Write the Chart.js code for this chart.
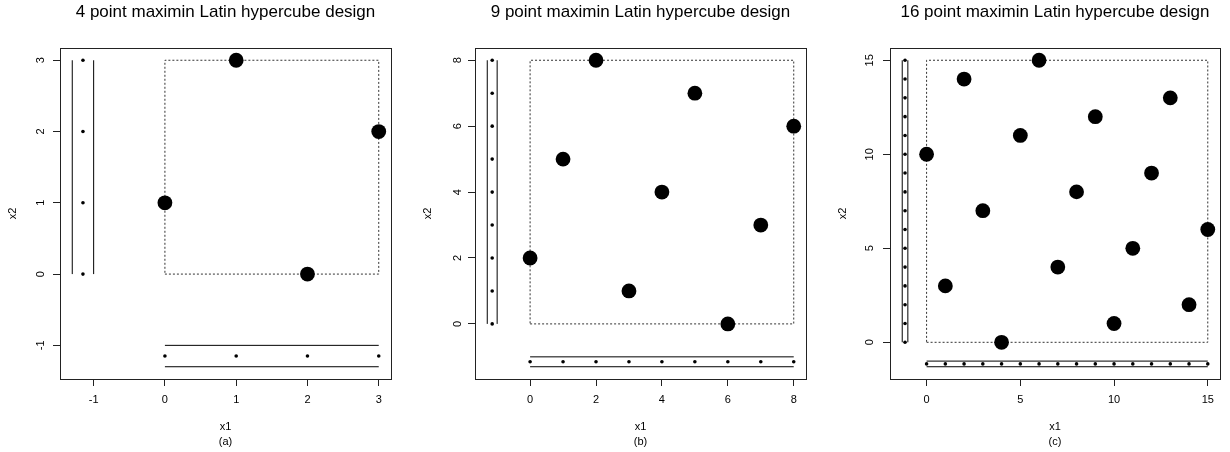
<!DOCTYPE html>
<html>
<head>
<meta charset="utf-8">
<script src="https://cdn.jsdelivr.net/npm/chart.js@4.4.0/dist/chart.umd.min.js"></script>
<style>
  html, body { margin: 0; padding: 0; background: #fff; }
  #wrap { position: relative; width: 1230px; height: 452px; }
  canvas { position: absolute; top: 0; }
</style>
</head>
<body>
<div id="wrap">
  <canvas id="panelA" width="410" height="452" style="left:0px"></canvas>
  <canvas id="panelB" width="410" height="452" style="left:410px"></canvas>
  <canvas id="panelC" width="410" height="452" style="left:820px"></canvas>
</div>
<script>
// design points, one array per coordinate
const designA_x1 = [0, 1, 2, 3];
const designA_x2 = [1, 3, 0, 2];
const designB_x1 = [0, 1, 2, 3, 4, 5, 6, 7, 8];
const designB_x2 = [2, 5, 8, 1, 4, 7, 0, 3, 6];
const designC_x1 = [0, 1, 2, 3, 4, 5, 6, 7, 8, 9, 10, 11, 12, 13, 14, 15];
const designC_x2 = [10, 3, 14, 7, 0, 11, 15, 4, 8, 12, 1, 5, 9, 13, 2, 6];

// tick labels
const ticksA = [-1, 0, 1, 2, 3];
const ticksB = [0, 2, 4, 6, 8];
const ticksC = [0, 5, 10, 15];

const titles = [
  "4 point maximin Latin hypercube design",
  "9 point maximin Latin hypercube design",
  "16 point maximin Latin hypercube design",
];
const captions = ["(a)", "(b)", "(c)"];

// where the 1-d projections sit (data units)
const railInner = -1;
const railOuter = -1.3;
const railDots = -1.15;

const FONT = "'Liberation Sans', Arial, Helvetica, sans-serif";

// R style box around the plot region
const boxPlugin = {
  id: "rbox",
  afterDraw(chart) {
    const a = chart.chartArea;
    const ctx = chart.ctx;
    ctx.save();
    ctx.strokeStyle = "#222";
    ctx.lineWidth = 1;
    ctx.strokeRect(Math.round(a.left) + 0.5, Math.round(a.top) + 0.5,
      Math.round(a.right - a.left), Math.round(a.bottom - a.top));
    ctx.restore();
  },
};

function line(points, dash, color) {
  return {
    type: "line",
    data: points,
    showLine: true,
    borderColor: color || "#000",
    borderWidth: 1,
    borderDash: dash || [],
    pointRadius: 0,
    fill: false,
    tension: 0,
  };
}

function makePanel(id, x1, x2, ticks, title, caption, left, right) {
  const hi = Math.max(...x1);
  const lo = railOuter;
  const pad = (hi - lo) * 0.04;

  const design = x1.map((v, i) => ({ x: v, y: x2[i] }));
  const leftDots = x2.map((v) => ({ x: railDots, y: v }));
  const bottomDots = x1.map((v) => ({ x: v, y: railDots }));

  const datasets = [
    {
      data: design,
      pointRadius: 7.4,
      pointHoverRadius: 7.4,
      pointBackgroundColor: "#000",
      pointBorderWidth: 0,
      showLine: false,
    },
    { data: leftDots, pointRadius: 1.8, pointBackgroundColor: "#000", pointBorderWidth: 0, showLine: false },
    { data: bottomDots, pointRadius: 1.8, pointBackgroundColor: "#000", pointBorderWidth: 0, showLine: false },
    line([{ x: railOuter, y: 0 }, { x: railOuter, y: hi }]),
    line([{ x: railInner, y: 0 }, { x: railInner, y: hi }]),
    line([{ x: 0, y: railInner }, { x: hi, y: railInner }]),
    line([{ x: 0, y: railOuter }, { x: hi, y: railOuter }]),
    line([{ x: 0, y: 0 }, { x: hi, y: 0 }, { x: hi, y: hi }, { x: 0, y: hi }, { x: 0, y: 0 }], [2, 2], "#333"),
  ];

  const tickFont = { family: FONT, size: 11 };

  return new Chart(document.getElementById(id), {
    type: "scatter",
    data: { datasets },
    plugins: [boxPlugin],
    options: {
      responsive: false,
      animation: false,
      events: [],
      layout: { padding: { left: 0, right: 410 - right, top: 0, bottom: 0 } },
      plugins: {
        legend: { display: false },
        tooltip: { enabled: false },
        title: {
          display: true,
          text: title,
          fullSize: false,
          color: "#000",
          font: { family: FONT, size: 17, weight: "normal", lineHeight: 1.2 },
          padding: { top: 2, bottom: 25.6 },
        },
      },
      scales: {
        x: {
          type: "linear",
          min: lo - pad,
          max: hi + pad,
          afterBuildTicks: (s) => { s.ticks = ticks.map((v) => ({ value: v })); },
          afterFit: (s) => {
            s.height = 452 - 379;
            s.paddingLeft = 0;
            s.paddingRight = 0;
          },
          grid: { display: true, drawOnChartArea: false, drawTicks: true, tickLength: 7, color: "#222", lineWidth: 1 },
          border: { display: false },
          ticks: { color: "#000", font: tickFont, padding: 7, maxRotation: 0, callback: (v) => String(v) },
          title: {
            display: true,
            text: ["x1", caption],
            color: "#000",
            font: { family: FONT, size: 11, lineHeight: 15 / 11 },
            padding: { top: 0, bottom: 2.5 },
          },
        },
        y: {
          type: "linear",
          min: lo - pad,
          max: hi + pad,
          afterBuildTicks: (s) => { s.ticks = ticks.map((v) => ({ value: v })); },
          afterFit: (s) => {
            s.width = left;
            s.paddingTop = 0;
            s.paddingBottom = 0;
          },
          grid: { display: true, drawOnChartArea: false, drawTicks: true, tickLength: 7, color: "#222", lineWidth: 1 },
          border: { display: false },
          ticks: {
            color: "#000",
            font: tickFont,
            minRotation: 90,
            maxRotation: 90,
            crossAlign: "center",
            padding: 7,
            callback: (v) => String(v),
          },
          title: {
            display: true,
            text: "x2",
            color: "#000",
            font: { family: FONT, size: 11, lineHeight: 1.2 },
            padding: { top: left - 47 - 6.6, bottom: 0 },
          },
        },
      },
    },
  });
}

makePanel("panelA", designA_x1, designA_x2, ticksA, titles[0], captions[0], 60, 391);
makePanel("panelB", designB_x1, designB_x2, ticksB, titles[1], captions[1], 65, 396);
makePanel("panelC", designC_x1, designC_x2, ticksC, titles[2], captions[2], 70, 400);
</script>
</body>
</html>
